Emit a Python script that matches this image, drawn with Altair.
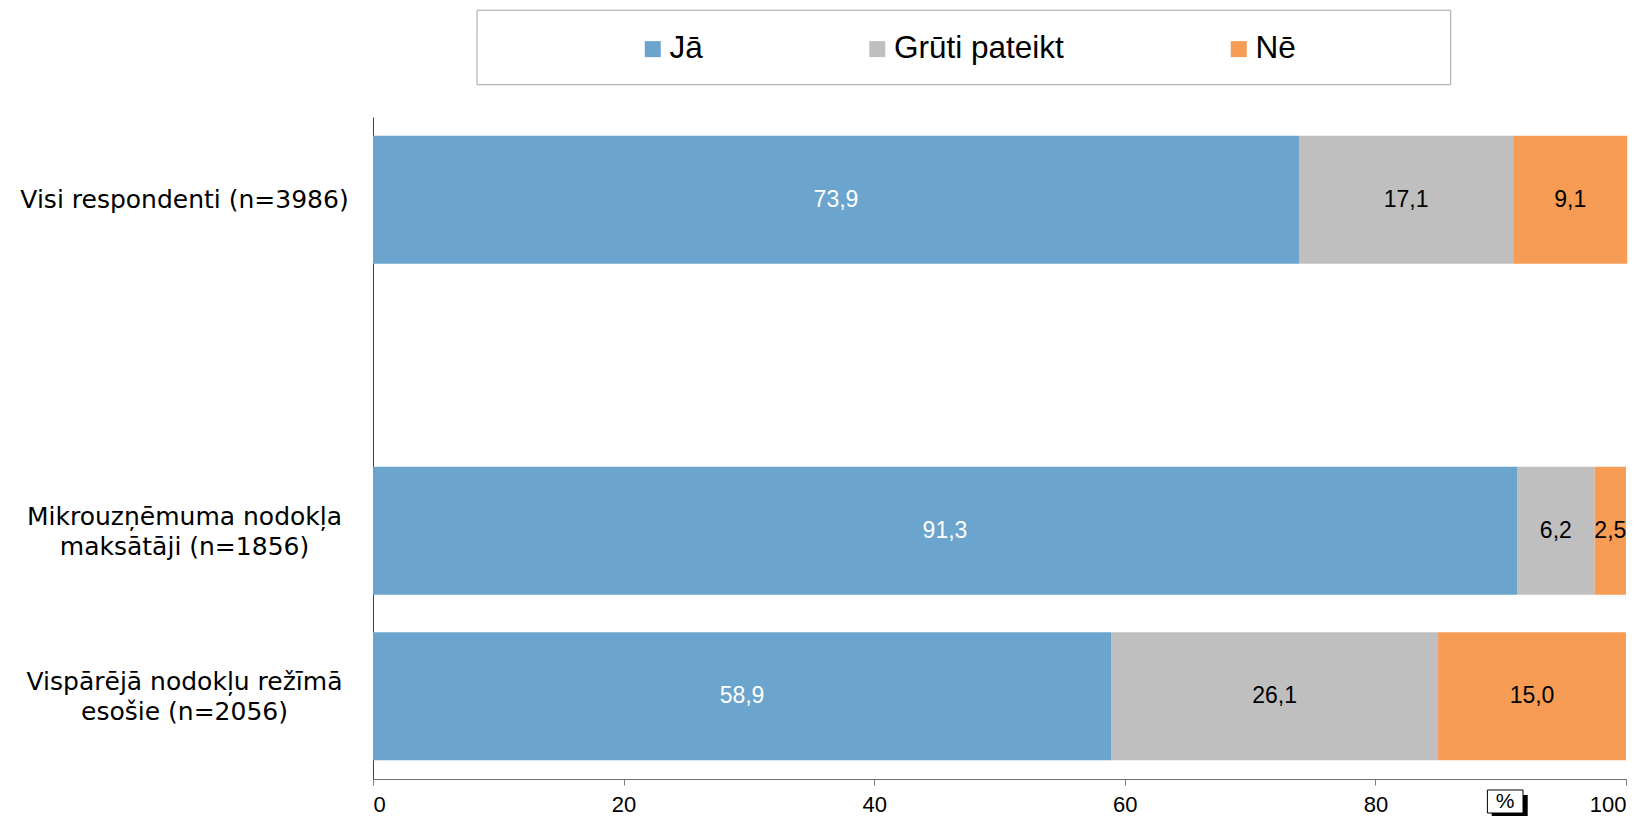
import altair as alt
import pandas as pd

# ---- data ----
groups = [
    "Visi respondenti (n=3986)",
    "Mikrouzņēmuma nodokļa|maksātāji (n=1856)",
    "Vispārējā nodokļu režīmā|esošie (n=2056)",
]
answers = ["Jā", "Grūti pateikt", "Nē"]
ja = [73.9, 91.3, 58.9]
gruti = [17.1, 6.2, 26.1]
ne = [9.1, 2.5, 15.0]
colors = ["#6BA4CD", "#BFBFBF", "#F79C55"]
x_ticks = [0, 20, 40, 60, 80, 100]
y_domain = [groups[0], " ", groups[1], groups[2]]

rows = []
for gi, g in enumerate(groups):
    for ai, (a, vals) in enumerate(zip(answers, [ja, gruti, ne])):
        v = vals[gi]
        rows.append({"group": g, "answer": a, "order": ai, "value": v,
                     "label": f"{v:.1f}".replace(".", ",")})
df = pd.DataFrame(rows)

xscale = alt.Scale(domain=[0, 100], nice=False)
yscale = alt.Scale(domain=y_domain, paddingInner=0.2266, paddingOuter=0.1133)

base = alt.Chart(df).transform_stack(
    stack="value", groupby=["group"], as_=["x0", "x1"],
    sort=[alt.SortField("order", order="ascending")],
).transform_calculate(mid="(datum.x0 + datum.x1) / 2")

bars = base.mark_bar().encode(
    y=alt.Y("group:N", scale=yscale, sort=y_domain,
            axis=alt.Axis(title=None, ticks=False, tickSize=0, domain=True,
                          domainColor="#404040", domainWidth=1,
                          labelFont="DejaVu Sans", labelFontSize=25,
                          labelColor="black", labelAlign="center",
                          labelPadding=189, labelLimit=500,
                          labelLineHeight=30,
                          labelOffset={"condition": {"test": "indexof(datum.value, '|') >= 0",
                                                     "value": -14},
                                       "value": 0},
                          labelExpr="split(datum.label, '|')")),
    x=alt.X("x0:Q", scale=xscale,
            axis=alt.Axis(title=None, values=x_ticks, format="d", grid=False,
                          tickSize=6, tickColor="#808080",
                          domainColor="#707070", domainWidth=1,
                          labelFont="Liberation Sans", labelFontSize=22,
                          labelColor="black", labelPadding=9)),
    x2="x1:Q",
    color=alt.Color("answer:N", scale=alt.Scale(domain=answers, range=colors),
                    legend=alt.Legend(title=None, orient="none", legendX=264,
                                      legendY=-84, direction="horizontal",
                                      columns=3, symbolType="square",
                                      symbolSize=256, symbolStrokeWidth=0,
                                      symbolOpacity=1,
                                      labelFont="Liberation Sans",
                                      labelFontSize=31.5, labelColor="black",
                                      labelOffset=1, columnPadding=158.5,
                                      padding=0, labelLimit=500)),
)

texts = base.mark_text(font="Liberation Sans", fontSize=23).encode(
    y=alt.Y("group:N", scale=yscale, sort=y_domain),
    x=alt.X("mid:Q", scale=xscale),
    text="label:N",
    color=alt.condition("datum.answer == 'Jā'", alt.value("white"), alt.value("black")),
)

deco = alt.Chart(pd.DataFrame({"k": [0]}))
frame = deco.mark_rect(fill="white", fillOpacity=0, stroke="#A6A6A6", strokeWidth=1).encode(
    x=alt.value(104), x2=alt.value(1077.7), y=alt.value(-106.8), y2=alt.value(-32.3))
shadow = deco.mark_rect(fill="black").encode(
    x=alt.value(1118.7), x2=alt.value(1154.7), y=alt.value(678), y2=alt.value(712))
box = deco.mark_rect(fill="white", stroke="black", strokeWidth=1).encode(
    x=alt.value(1114.4), x2=alt.value(1150), y=alt.value(673), y2=alt.value(696))
pct = deco.mark_text(text="%", font="Liberation Sans", fontSize=21, color="black").encode(
    x=alt.value(1132.2), y=alt.value(685))

chart = alt.layer(bars, texts, frame, shadow, box, pct).properties(
    width=1253, height=662,
    autosize=alt.AutoSizeParams(type="none"),
    padding={"left": 365, "top": 109, "right": 10, "bottom": 37},
).configure_view(stroke=None)

chart.save("out.html", embed_options={"renderer": "svg", "actions": False})
